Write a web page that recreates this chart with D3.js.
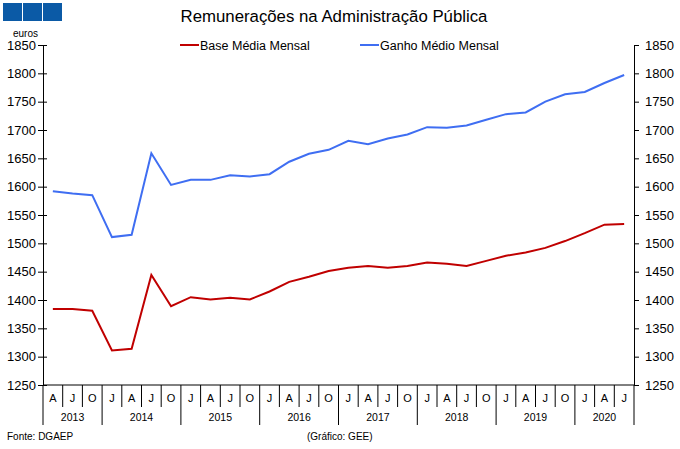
<!DOCTYPE html>
<html><head><meta charset="utf-8">
<script src="https://cdn.jsdelivr.net/npm/d3@7"></script>
<style>body{margin:0;background:#fff}svg{display:block;font-family:"Liberation Sans",Arial,sans-serif}</style>
</head><body><svg id="c" width="680" height="449"></svg>
<script>
const categories = ["A","J","O","J","A","J","O","J","A","J","O","J","A","J","O","J","A","J","O","J","A","J","O","J","A","J","O","J","A","J"];
const years = ["2013","2014","2015","2016","2017","2018","2019","2020"];
const yearCounts = [3,4,4,4,4,4,4,3];
const baseMedia = [1384,1384,1381,1311,1314,1444,1389,1405,1401,1404,1401,1415,1432,1441,1451,1457,1460,1457,1460,1466,1464,1460,1469,1478,1484,1492,1504,1518,1533,1534];
const ganhoMedio = [1592,1588,1585,1511,1515,1659,1603,1612,1612,1620,1618,1622,1644,1658,1665,1681,1675,1685,1692,1705,1704,1708,1718,1728,1731,1750,1763,1767,1783,1797];
const yTicks = [1250,1300,1350,1400,1450,1500,1550,1600,1650,1700,1750,1800,1850];

const svg = d3.select("#c");
const L = 43, R = 634, T = 45, B = 385;
const idx = d3.range(categories.length);
const x = d3.scaleBand().domain(idx).range([L, R]).padding(0);
const y = d3.scaleLinear().domain([1250, 1850]).range([B, T]);

// logo
svg.selectAll("rect.logo").data([0,1,2]).join("rect")
  .attr("x", d => 3 + d*20).attr("y", 3).attr("width", 19).attr("height", 18)
  .attr("fill", "#0b5aa6");

svg.append("text").attr("x", 334).attr("y", 22).attr("text-anchor","middle")
  .attr("font-size", 16.8).attr("fill","#000").text("Remunerações na Administração Pública");
svg.append("text").attr("x", 13).attr("y", 37).attr("font-size", 10).attr("fill","#000").text("euros");

// axes
const axL = d3.axisLeft(y).tickValues(yTicks).tickSize(5).tickFormat(d3.format("d"));
const gL = svg.append("g").attr("transform", `translate(${L},0)`).call(axL);
gL.select(".domain").attr("stroke","#000");
gL.selectAll(".tick line").attr("x1", 4).attr("x2", -5);
gL.selectAll(".tick text").attr("font-size", 13).attr("font-family","Liberation Sans, Arial, sans-serif").attr("x", -7).attr("fill","#000");

const axR = d3.axisRight(y).tickValues(yTicks).tickSize(5).tickFormat(d3.format("d"));
const gR = svg.append("g").attr("transform", `translate(${R},0)`).call(axR);
gR.select(".domain").attr("stroke","#000");
gR.selectAll(".tick text").attr("font-size", 13).attr("font-family","Liberation Sans, Arial, sans-serif").attr("x", 11).attr("fill","#000");

// x axis
svg.append("line").attr("x1", L).attr("x2", R).attr("y1", B).attr("y2", B).attr("stroke","#000");
const yearStarts = [0];
yearCounts.forEach((c,i) => yearStarts.push(yearStarts[i] + c));
const gX = svg.append("g");
d3.range(categories.length + 1).forEach(i => {
  const xx = i < categories.length ? x(i) : R;
  const isYear = yearStarts.includes(i);
  gX.append("line").attr("x1", xx).attr("x2", xx).attr("y1", B).attr("y2", isYear ? 425 : 407)
    .attr("stroke", "#000").attr("stroke-width", 1);
});
gX.selectAll("text.cat").data(idx).join("text")
  .attr("x", i => x(i) + x.bandwidth()/2).attr("y", 402).attr("text-anchor","middle")
  .attr("font-size", 11).attr("fill","#000").text(i => categories[i]);
gX.selectAll("text.yr").data(years).join("text")
  .attr("x", (d,i) => {
    const s = x(yearStarts[i]);
    const e = yearStarts[i+1] < categories.length ? x(yearStarts[i+1]) : R;
    return (s + e)/2;
  }).attr("y", 421).attr("text-anchor","middle").attr("font-size", 10.5).attr("fill","#000").text(d => d);

// lines
const line = d3.line().x((d,i) => x(i) + x.bandwidth()/2).y(d => y(d));
svg.append("path").datum(baseMedia).attr("d", line).attr("fill","none")
  .attr("stroke","#c00000").attr("stroke-width", 2);
svg.append("path").datum(ganhoMedio).attr("d", line).attr("fill","none")
  .attr("stroke","#3f6ef2").attr("stroke-width", 2);

// legend
const leg = [["Base Média Mensal","#c00000",180],["Ganho Médio Mensal","#3f6ef2",360]];
leg.forEach(([t,c,lx]) => {
  svg.append("line").attr("x1", lx).attr("x2", lx+19).attr("y1", 45).attr("y2", 45).attr("stroke", c).attr("stroke-width", 2);
  svg.append("text").attr("x", lx+20).attr("y", 49.5).attr("font-size", 12.5).attr("fill","#000").text(t);
});

// footer
svg.append("text").attr("x", 7).attr("y", 440).attr("font-size", 10).attr("fill","#000").text("Fonte: DGAEP");
svg.append("text").attr("x", 307).attr("y", 440).attr("font-size", 10).attr("fill","#000").text("(Gráfico: GEE)");
</script></body></html>
